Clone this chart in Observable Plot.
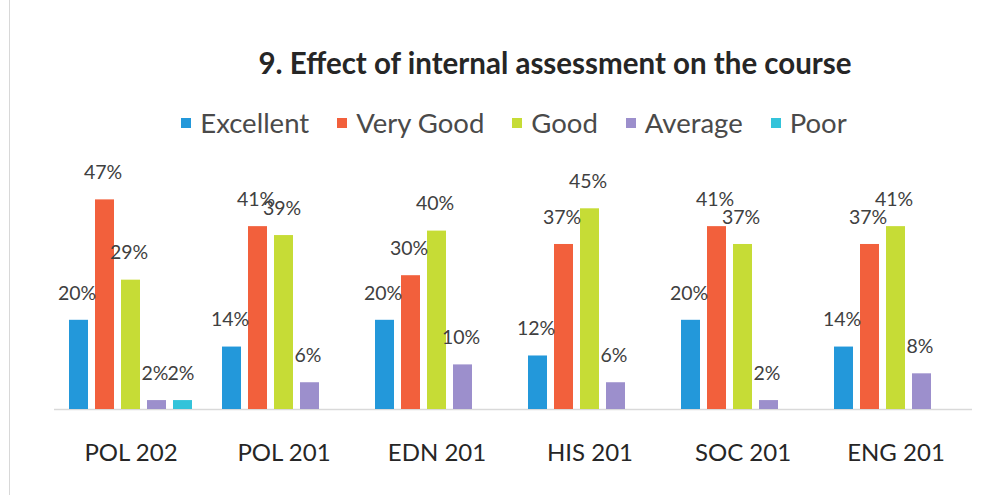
<!DOCTYPE html>
<html>
<head>
<meta charset="utf-8">
<script src="https://cdn.jsdelivr.net/npm/d3@7"></script>
<script src="https://cdn.jsdelivr.net/npm/@observablehq/plot@0.6"></script>
<style>
  html, body { margin: 0; padding: 0; background: #fff; }
  #wrap { position: relative; width: 993px; height: 495px; overflow: hidden; font-family: Lato, "Open Sans", sans-serif; }
  #edge { position: absolute; left: 9px; top: 0; width: 0; height: 495px; border-left: 1px solid #d8d8d8; }
  #title { position: absolute; top: 43px; left: 155px; width: 800px; text-align: center; font-size: 29.5px; font-weight: bold; color: #262626; line-height: 40px; }
  #legend { position: absolute; top: 106px; left: 0; width: 1028px; display: flex; justify-content: center; gap: 28px; font-size: 27.5px; color: #4a4a4a; line-height: 34px; }
  #legend .item { display: flex; align-items: center; gap: 9px; }
  #legend .sw { width: 10px; height: 10px; display: inline-block; }
  #chart { position: absolute; top: 150px; left: 0; }
</style>
</head>
<body>
<div id="wrap">
  <div id="edge"></div>
  <div id="title"></div>
  <div id="legend"></div>
  <div id="chart"></div>
</div>
<script>
const titleText = "9. Effect of internal assessment on the course";
const courses = ["POL 202", "POL 201", "EDN 201", "HIS 201", "SOC 201", "ENG 201"];
const ratings = ["Excellent", "Very Good", "Good", "Average", "Poor"];
const excellent = [20, 14, 20, 12, 20, 14];
const veryGood  = [47, 41, 30, 37, 41, 37];
const good      = [29, 39, 40, 45, 37, 41];
const average   = [2, 6, 10, 6, 2, 8];
const poor      = [2, null, null, null, null, null];
const colors = ["#2398da", "#f2603c", "#c6dc36", "#9c8fcc", "#33c3da"];

const series = [excellent, veryGood, good, average, poor];
const rows = [];
courses.forEach((c, i) => {
  ratings.forEach((r, j) => {
    const v = series[j][i];
    if (v != null) rows.push({course: c, rating: r, value: v});
  });
});

document.getElementById("title").textContent = titleText;
const legend = document.getElementById("legend");
ratings.forEach((r, j) => {
  const it = document.createElement("div");
  it.className = "item";
  const sw = document.createElement("span");
  sw.className = "sw";
  sw.style.background = colors[j];
  const t = document.createElement("span");
  t.textContent = r;
  it.appendChild(sw); it.appendChild(t);
  legend.appendChild(it);
});

const chart = Plot.plot({
  width: 993,
  height: 345,
  marginLeft: 54,
  marginRight: 21,
  marginTop: 36,
  marginBottom: 86,
  style: {fontFamily: "Lato, 'Open Sans', sans-serif", background: "transparent"},
  fx: {domain: courses, padding: 0, label: null, axis: "bottom", tickSize: 0, tickPadding: 34, fontSize: 24},
  x: {domain: ratings, paddingInner: 0.28, paddingOuter: 0.55, axis: null},
  y: {domain: [0, 50], axis: null},
  color: {domain: ratings, range: colors},
  marks: [
    Plot.ruleY([0], {stroke: "#d9d9d9", strokeWidth: 1.5}),
    Plot.barY(rows, {fx: "course", x: "rating", y: "value", fill: "rating"}),
    Plot.text(rows, {fx: "course", x: "rating", y: "value", text: d => d.value + "%", dy: -27, dx: -2, fontSize: 19.5, fill: "#404040"})
  ]
});
chart.querySelectorAll("g[aria-label='fx-axis tick label'] text, g[aria-label='fx-axis tick label']").forEach(el => {
  el.setAttribute("font-size", 24);
  el.setAttribute("fill", "#262626");
});
document.getElementById("chart").appendChild(chart);
</script>
</body>
</html>
